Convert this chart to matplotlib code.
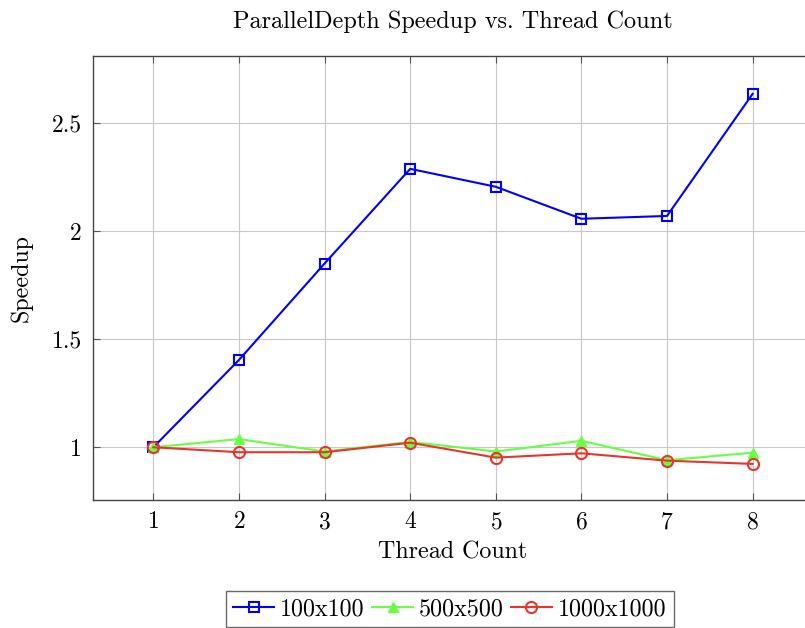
import matplotlib
matplotlib.use("Agg")
import matplotlib.pyplot as plt

threads = [1, 2, 3, 4, 5, 6, 7, 8]
speedup_100 = [1.0, 1.404, 1.85, 2.288, 2.205, 2.057, 2.07, 2.635]
speedup_500 = [1.0, 1.038, 0.98, 1.025, 0.98, 1.03, 0.94, 0.975]
speedup_1000 = [1.0, 0.977, 0.977, 1.021, 0.952, 0.972, 0.938, 0.923]
labels = ["100x100", "500x500", "1000x1000"]

plt.rcParams["font.family"] = "cmr10"
plt.rcParams["axes.formatter.use_mathtext"] = True
plt.rcParams["mathtext.fontset"] = "cm"

fig = plt.figure(figsize=(8.05, 6.28), dpi=100)
ax = fig.add_axes([93 / 805, 1 - 500 / 628, 720 / 805, 444 / 628])

ax.plot(threads, speedup_100, color="#0000ff", lw=1.5, marker="s",
        ms=7, mfc="none", mew=1.5, label=labels[0])
ax.plot(threads, speedup_500, color="#66ff44", lw=1.5, marker="^",
        ms=7, mfc="#66ff44", mew=1.0, label=labels[1])
ax.plot(threads, speedup_1000, color="#e8342a", lw=1.5, marker="o",
        ms=8, mfc="none", mew=1.5, label=labels[2])

ax.set_xlim(0.295, 8.705)
ax.set_ylim(0.756, 2.81)
ax.set_xticks(threads)
ax.set_yticks([1, 1.5, 2, 2.5])
ax.set_yticklabels(["1", "1.5", "2", "2.5"])
ax.grid(True, color="#c8c8c8", lw=0.8)
ax.set_axisbelow(True)
ax.tick_params(direction="in", top=True, right=True, length=5,
               color="#555555", labelsize=17, pad=8)
for s in ax.spines.values():
    s.set_color("#444444")
    s.set_linewidth(1.0)

ax.set_title("ParallelDepth Speedup vs. Thread Count", fontsize=17.5, pad=20)
ax.set_xlabel("Thread Count", fontsize=17.3, labelpad=6)
ax.set_ylabel("Speedup", fontsize=17.3, labelpad=14)

fig.legend(loc="center", bbox_to_anchor=(450 / 805, 1 - 609 / 628), ncol=3,
           fontsize=17.3, frameon=True, fancybox=False, edgecolor="#444444",
           handlelength=1.7, handletextpad=0.25, columnspacing=0.3,
           borderpad=0.3, borderaxespad=0)

fig.savefig("out.png", dpi=100)
